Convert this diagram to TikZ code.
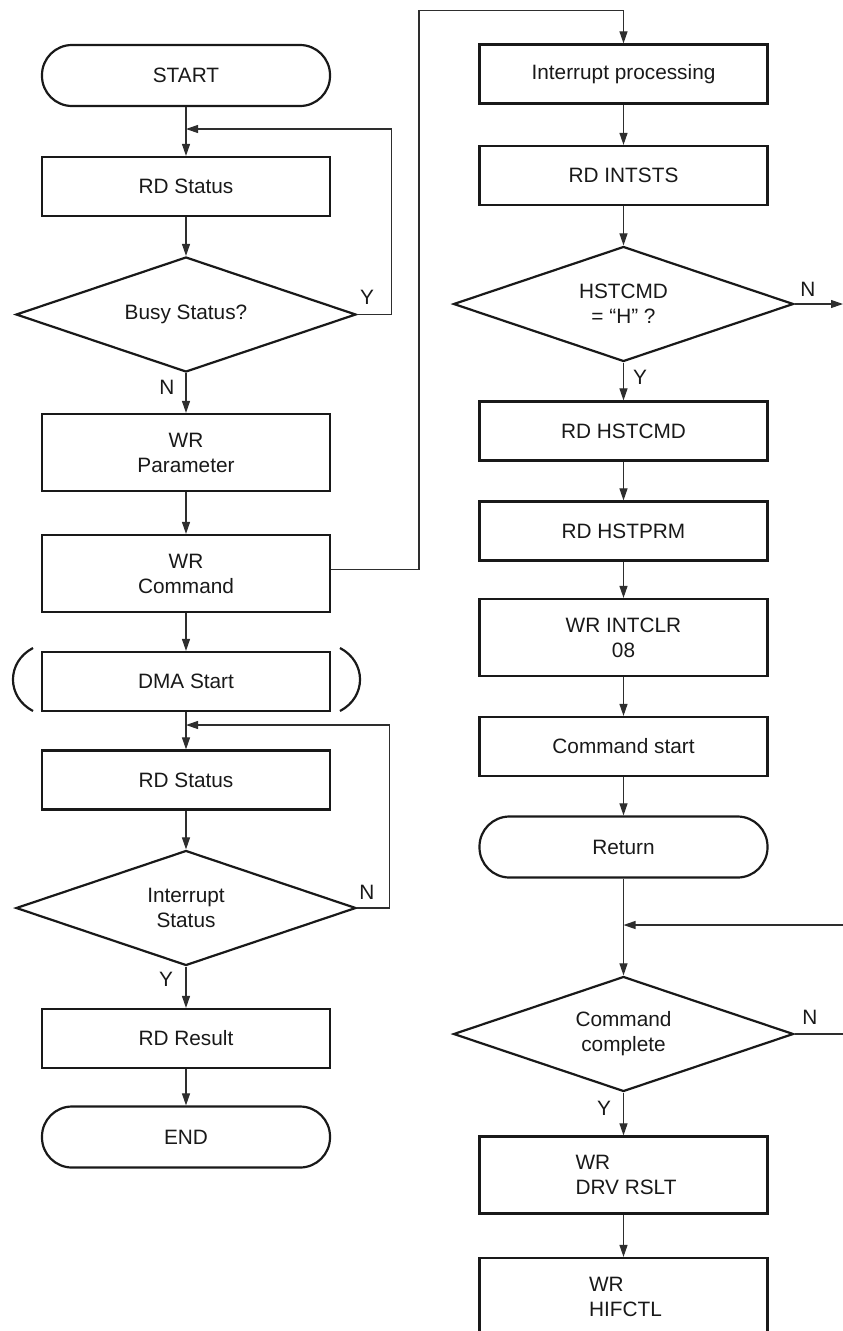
\documentclass[tikz,border=0pt]{standalone}
\usepackage{fontspec}
\setmainfont{Liberation Sans}
\usetikzlibrary{shapes.geometric,arrows.meta}
\begin{document}
\begin{tikzpicture}[x=1pt,y=-1pt,
  every node/.style={font=\fontsize{20.8}{25}\selectfont, text=black!90},
  proc/.style={draw=black!90, line width=2.2pt, minimum width=288pt, minimum height=59pt, inner sep=0pt, align=center},
  proc2/.style={proc, minimum height=77pt},
  term/.style={proc, minimum height=61pt, rounded corners=30pt},
  dec/.style={diamond, shape aspect=2.96, draw=black!90, line width=2.2pt, minimum width=340pt, minimum height=115pt, inner sep=0pt, align=center},
  arr/.style={line width=1.1pt, draw=black!82, -{Triangle[length=12pt,width=8pt]}},
  ln/.style={line width=1.1pt, draw=black!82},
  lbl/.style={inner sep=0pt}]
\useasboundingbox (0,0) rectangle (843,1331);
\clip (0,0) rectangle (843,1331);

% left column
\node[term] (start) at (186,75.5) {START};
\node[proc] (rda) at (186,186.5) {RD Status};
\node[dec] (busy) at (186,314.5) {Busy Status?};
\node[proc2] (wrp) at (186,452.5) {WR\\Parameter};
\node[proc2] (wrc) at (186,573.5) {WR\\Command};
\node[proc] (dma) at (186,681.5) {DMA Start};
\node[proc] (rdb) at (186,780) {RD Status};
\node[dec] (int) at (186,908) {Interrupt\\Status};
\node[proc] (rdr) at (186,1038.5) {RD Result};
\node[term] (end) at (186,1137) {END};

% right column
\node[proc] (ip) at (623.5,74) {Interrupt processing};
\node[proc] (ints) at (623.5,175.5) {RD INTSTS};
\node[dec] (hst) at (623.5,304) {HSTCMD\\= “H” ?};
\node[proc] (rdh) at (623.5,431) {RD HSTCMD};
\node[proc] (rdp) at (623.5,531) {RD HSTPRM};
\node[proc2] (wri) at (623.5,637.5) {WR INTCLR\\08};
\node[proc] (cms) at (623.5,746.5) {Command start};
\node[term] (ret) at (623.5,847) {Return};
\node[dec] (cc) at (623.5,1034) {Command\\complete};
\node[proc2, align=left] (drv) at (623.5,1175) {\hspace*{5pt}WR\\\hspace*{5pt}DRV RSLT};
\node[proc2, align=left] (hif) at (623.5,1296.5) {\hspace*{4pt}WR\\\hspace*{4pt}HIFCTL};

% DMA brackets
\draw[line width=2.2pt, draw=black!90] (33,648) .. controls (6.3,662) and (6.3,697) .. (33,711);
\draw[line width=2.2pt, draw=black!90] (340,648) .. controls (366.7,662) and (366.7,697) .. (340,711);

% coordinates
\coordinate (j1) at (186,129);
\coordinate (j2) at (186,725);
\coordinate (top) at (419,10.7);
\coordinate (e1) at (843,304);
\coordinate (j3) at (623.5,925);
\coordinate (e2) at (843,925);
\coordinate (e3) at (843,1034);

% left connectors
\draw[arr] (start) -- (rda);
\draw[arr] (rda) -- (busy);
\draw[arr] (busy.east) -- ++(34,0) |- (j1);
\draw[arr] (busy) -- (wrp);
\draw[arr] (wrp) -- (wrc);
\draw[arr] (wrc) -- (dma);
\draw[arr] (dma) -- (rdb);
\draw[arr] (rdb) -- (int);
\draw[arr] (int.east) -- ++(32,0) |- (j2);
\draw[arr] (int) -- (rdr);
\draw[arr] (rdr) -- (end);

% cross connector
\draw[arr] ([yshift=4pt]wrc.east) -| (top) -| (ip.north);

% right connectors
\draw[arr] (ip) -- (ints);
\draw[arr] (ints) -- (hst);
\draw[arr] (hst.east) -- (e1);
\draw[arr] (hst) -- (rdh);
\draw[arr] (rdh) -- (rdp);
\draw[arr] (rdp) -- (wri);
\draw[arr] (wri) -- (cms);
\draw[arr] (cms) -- (ret);
\draw[arr] (ret) -- (cc);
\draw[arr] (e2) -- (j3);
\draw[ln] (cc.east) -- (e3);
\draw[arr] (cc) -- (drv);
\draw[arr] (drv) -- (hif);

% labels
\node[lbl] (ly1) at (367,297) {Y};
\node[lbl] (ln1) at (167,387) {N};
\node[lbl] (ln2) at (367,892) {N};
\node[lbl] (ly2) at (166,979) {Y};
\node[lbl] (ln3) at (808,289) {N};
\node[lbl] (ly3) at (640,377) {Y};
\node[lbl] (ln4) at (810,1017) {N};
\node[lbl] (ly4) at (604,1108) {Y};
\end{tikzpicture}
\end{document}
